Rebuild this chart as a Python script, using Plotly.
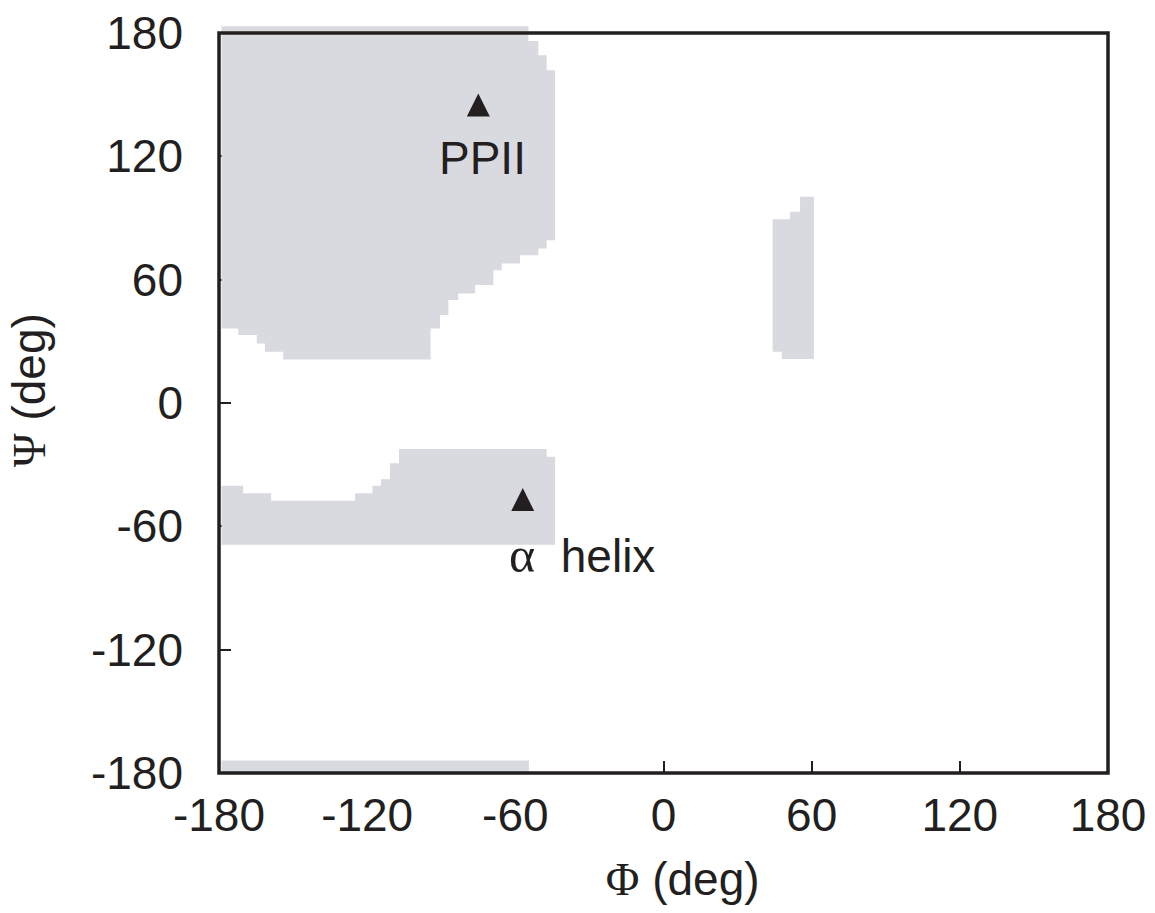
import plotly.graph_objects as go

# ---- data (degrees) ----
# allowed region around PPII / beta (stepped grid boundary)
ppii_phi = [-179, -54.7, -54.7, -50.7, -50.7, -47.3, -47.3, -43.9, -43.9, -47.3, -47.3,
            -50.7, -50.7, -58.1, -58.1, -65.5, -65.5, -68.9, -68.9, -76.3, -76.3,
            -83.1, -83.1, -87.1, -87.1, -90.5, -90.5, -94.3, -94.3, -154.0, -154.0,
            -161.4, -161.4, -164.7, -164.7, -172.2, -172.2, -179]
ppii_psi = [183.3, 183.3, 176.1, 176.1, 169.2, 169.2, 161.9, 161.9, 79.2, 79.2, 75.2,
            75.2, 71.9, 71.9, 67.9, 67.9, 64.6, 64.6, 57.4, 57.4, 53.3,
            53.3, 50.1, 50.1, 42.8, 42.8, 36.3, 36.3, 21.2, 21.2, 24.9,
            24.9, 29.0, 29.0, 33.1, 33.1, 36.3, 36.3]

# wrap-around of the same region at the bottom edge
wrap_phi = [-179, -54.5, -54.5, -179]
wrap_psi = [-180, -180, -173.9, -173.9]

# alpha-helix region
alpha_phi = [-179, -170.2, -170.2, -158.9, -158.9, -124.9, -124.9, -117.9, -117.9,
             -114.4, -114.4, -110.8, -110.8, -107.1, -107.1, -47.3, -47.3, -43.9,
             -43.9, -179]
alpha_psi = [-40.3, -40.3, -43.9, -43.9, -47.5, -47.5, -43.9, -43.9, -40.3,
             -40.3, -37.1, -37.1, -29.3, -29.3, -22.4, -22.4, -26.1, -26.1,
             -69.0, -69.0]

# left-handed region near phi = +60
left_phi = [44.2, 51.2, 51.2, 55.3, 55.3, 60.9, 60.9, 47.9, 47.9, 44.2]
left_psi = [89.4, 89.4, 93.0, 93.0, 100.3, 100.3, 21.4, 21.4, 24.9, 24.9]

# reference conformations
conf_phi = [-75, -57]
conf_psi = [145, -47]
conf_names = ["PPII", "\u03b1 helix"]

tick_vals = [-180, -120, -60, 0, 60, 120, 180]
tick_text = ["-180", "-120", "-60", "0", "60", "120", "180"]

GRAY = "#d9dadf"
INK = "#231f20"
SANS = "Liberation Sans, Arial, sans-serif"
SERIF = "Liberation Serif"
NB = "&nbsp;"

fig = go.Figure()
for px_, py_ in [(ppii_phi, ppii_psi), (wrap_phi, wrap_psi),
                 (alpha_phi, alpha_psi), (left_phi, left_psi)]:
    fig.add_trace(go.Scatter(x=px_, y=py_, fill="toself", fillcolor=GRAY,
                             mode="lines", line=dict(width=0, color=GRAY),
                             hoverinfo="skip", showlegend=False))

# upward triangles centred on the points (arrow shape flipped and shifted by half height)
fig.add_trace(go.Scatter(x=conf_phi, y=conf_psi, mode="markers",
                         marker=dict(symbol="arrow-down", angle=180, size=23,
                                     standoff=11.5, color=INK, line=dict(width=0)),
                         showlegend=False))

# labels of the reference conformations
fig.add_annotation(x=conf_phi[0] + 1.7, y=conf_psi[0] - 26, text=conf_names[0],
                   showarrow=False, xanchor="center", yanchor="middle",
                   font=dict(family=SANS, size=46, color=INK))
fig.add_annotation(x=conf_phi[1] + 24.0, y=conf_psi[1] - 27, showarrow=False,
                   text='<span style="font-family:%s;font-size:50px">\u03b1</span>%shelix'
                        % (SERIF, NB * 2),
                   xanchor="center", yanchor="middle",
                   font=dict(family=SANS, size=46, color=INK))

# the grid cells above psi=180 slightly overhang the frame
fig.add_shape(type="rect", xref="x", yref="paper",
              x0=min(ppii_phi), x1=ppii_phi[1],
              y0=1, y1=1 + (max(ppii_psi) - 180) / 360,
              fillcolor=GRAY, line=dict(width=0), layer="below")
# frame
fig.add_shape(type="rect", xref="paper", yref="paper", x0=0, x1=1, y0=0, y1=1,
              line=dict(color=INK, width=3.5), layer="above")

axis_common = dict(range=[-180, 180], tickvals=tick_vals, ticktext=tick_text,
                   showgrid=False, zeroline=False, showline=False, automargin=False,
                   ticks="inside", ticklen=12, tickwidth=2, tickcolor=INK,
                   layer="below traces",
                   tickfont=dict(family=SANS, size=46, color=INK))

fig.update_xaxes(**axis_common, ticklabelstandoff=11,
                 title=dict(text=NB * 3 + '<span style="font-family:%s">\u03a6</span> (deg)' % SERIF,
                            font=dict(family=SANS, size=46, color=INK), standoff=22))
fig.update_yaxes(**axis_common, ticklabelstandoff=35,
                 title=dict(text=NB * 2 + '<span style="font-family:%s">\u03a8</span> (deg)' % SERIF,
                            font=dict(family=SANS, size=46, color=INK), standoff=30))

fig.update_layout(width=1155, height=913, autosize=False,
                  margin=dict(l=219, r=47, t=33, b=140, pad=0),
                  plot_bgcolor="white", paper_bgcolor="white")

fig.write_html("out.html")
